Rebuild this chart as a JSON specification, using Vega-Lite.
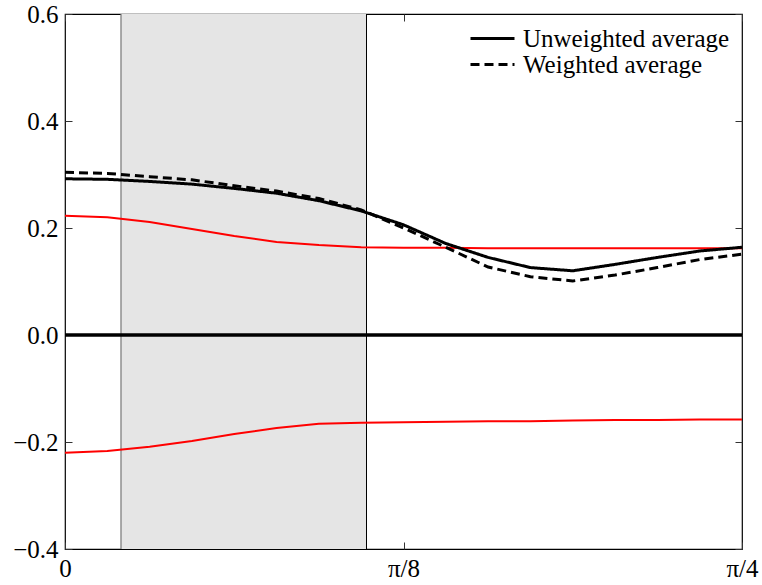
{
  "$schema": "https://vega.github.io/schema/vega-lite/v6.json",
  "width": 677,
  "height": 535,
  "autosize": {"type": "none"},
  "padding": {"left": 65, "top": 14, "right": 20, "bottom": 36},
  "background": "white",
  "config": {
    "view": {"stroke": "black", "strokeWidth": 1.2},
    "font": "Liberation Serif",
    "axis": {"grid": false, "domain": false, "labelFont": "Liberation Serif", "labelFontSize": 25, "labelColor": "black", "tickColor": "#333", "title": null}
  },
  "datasets": {
    "curves": [
      {"x": 0, "unweighted": 0.292, "weighted": 0.304, "upper": 0.223, "lower": -0.220},
      {"x": 0.125, "unweighted": 0.291, "weighted": 0.302, "upper": 0.220, "lower": -0.217},
      {"x": 0.25, "unweighted": 0.287, "weighted": 0.296, "upper": 0.211, "lower": -0.209},
      {"x": 0.375, "unweighted": 0.282, "weighted": 0.290, "upper": 0.198, "lower": -0.198},
      {"x": 0.5, "unweighted": 0.274, "weighted": 0.279, "upper": 0.185, "lower": -0.185},
      {"x": 0.625, "unweighted": 0.265, "weighted": 0.269, "upper": 0.174, "lower": -0.174},
      {"x": 0.75, "unweighted": 0.251, "weighted": 0.255, "upper": 0.168, "lower": -0.166},
      {"x": 0.875, "unweighted": 0.232, "weighted": 0.234, "upper": 0.164, "lower": -0.164},
      {"x": 1.0, "unweighted": 0.206, "weighted": 0.200, "upper": 0.163, "lower": -0.163},
      {"x": 1.125, "unweighted": 0.171, "weighted": 0.164, "upper": 0.163, "lower": -0.162},
      {"x": 1.25, "unweighted": 0.145, "weighted": 0.127, "upper": 0.162, "lower": -0.161},
      {"x": 1.375, "unweighted": 0.126, "weighted": 0.109, "upper": 0.162, "lower": -0.161},
      {"x": 1.5, "unweighted": 0.120, "weighted": 0.101, "upper": 0.162, "lower": -0.160},
      {"x": 1.625, "unweighted": 0.132, "weighted": 0.112, "upper": 0.162, "lower": -0.159},
      {"x": 1.75, "unweighted": 0.145, "weighted": 0.126, "upper": 0.162, "lower": -0.159},
      {"x": 1.875, "unweighted": 0.157, "weighted": 0.141, "upper": 0.162, "lower": -0.158},
      {"x": 2.0, "unweighted": 0.164, "weighted": 0.151, "upper": 0.162, "lower": -0.158}
    ],
    "band": [{"lo": 0.1654, "hi": 0.8907, "ymin": -0.4, "ymax": 0.6}]
  },
  "layer": [
    {
      "layer": [
        {
          "data": {"name": "band"},
          "mark": {"type": "rect", "color": "#e5e5e5"},
          "encoding": {
            "x": {"field": "lo", "type": "quantitative", "scale": {"domain": [0, 2], "nice": false, "zero": false},
                  "axis": {"orient": "bottom", "values": [0, 1, 2], "tickSize": -7, "labelPadding": 14, "labelFlush": false,
                           "labelFont": "Liberation Serif", "labelFontSize": 25,
                           "labelExpr": "datum.value == 0 ? '0' : datum.value == 1 ? 'π/8' : 'π/4'"}},
            "x2": {"field": "hi"},
            "y": {"field": "ymin", "type": "quantitative", "scale": {"domain": [-0.4, 0.6], "nice": false, "zero": false},
                  "axis": {"orient": "left", "values": [-0.4, -0.2, 0, 0.2, 0.4, 0.6], "format": ".1f", "tickSize": -7, "labelPadding": 14, "labelFlush": false,
                           "labelFont": "Liberation Serif", "labelFontSize": 25}},
            "y2": {"field": "ymax"}
          }
        },
        {
          "data": {"name": "band"},
          "mark": {"type": "rule", "color": "#777", "strokeWidth": 1.2},
          "encoding": {"x": {"field": "lo", "type": "quantitative"}}
        },
        {
          "data": {"name": "band"},
          "mark": {"type": "rule", "color": "black", "strokeWidth": 1},
          "encoding": {"x": {"field": "hi", "type": "quantitative"}}
        },
        {
          "data": {"name": "curves"},
          "transform": [{"fold": ["upper", "lower"], "as": ["bound", "value"]}],
          "mark": {"type": "line", "color": "#ff0000", "strokeWidth": 2},
          "encoding": {
            "x": {"field": "x", "type": "quantitative"},
            "y": {"field": "value", "type": "quantitative"},
            "detail": {"field": "bound"}
          }
        },
        {
          "data": {"name": "band"},
          "mark": {"type": "rule", "color": "black", "strokeWidth": 3.5},
          "encoding": {"y": {"datum": 0}}
        },
        {
          "data": {"name": "curves"},
          "transform": [
            {"fold": ["unweighted", "weighted"], "as": ["series", "value"]},
            {"calculate": "datum.series == 'unweighted' ? 'Unweighted average' : 'Weighted average'", "as": "label"}
          ],
          "mark": {"type": "line", "color": "black", "strokeWidth": 3},
          "encoding": {
            "x": {"field": "x", "type": "quantitative"},
            "y": {"field": "value", "type": "quantitative"},
            "strokeDash": {
              "field": "label", "type": "nominal",
              "scale": {"domain": ["Unweighted average", "Weighted average"], "range": [[1, 0], [9, 5]]},
              "legend": {
                "title": null, "orient": "top-right", "offset": 12,
                "labelFont": "Liberation Serif", "labelFontSize": 25, "labelColor": "black", "labelLimit": 0,
                "symbolType": "M-2,0H2", "symbolSize": 484, "symbolStrokeWidth": 3, "symbolStrokeColor": "black",
                "rowPadding": -3, "labelOffset": 18
              }
            }
          }
        }
      ]
    },
    {
      "data": {"name": "band"},
      "mark": {"type": "rule", "opacity": 0},
      "encoding": {
        "x": {"field": "lo", "type": "quantitative", "axis": {"orient": "top", "values": [0, 1, 2], "tickSize": -7, "labels": false}},
        "y": {"field": "ymin", "type": "quantitative", "axis": {"orient": "right", "values": [-0.4, -0.2, 0, 0.2, 0.4, 0.6], "tickSize": -7, "labels": false}}
      }
    }
  ],
  "resolve": {"axis": {"x": "independent", "y": "independent"}}
}
